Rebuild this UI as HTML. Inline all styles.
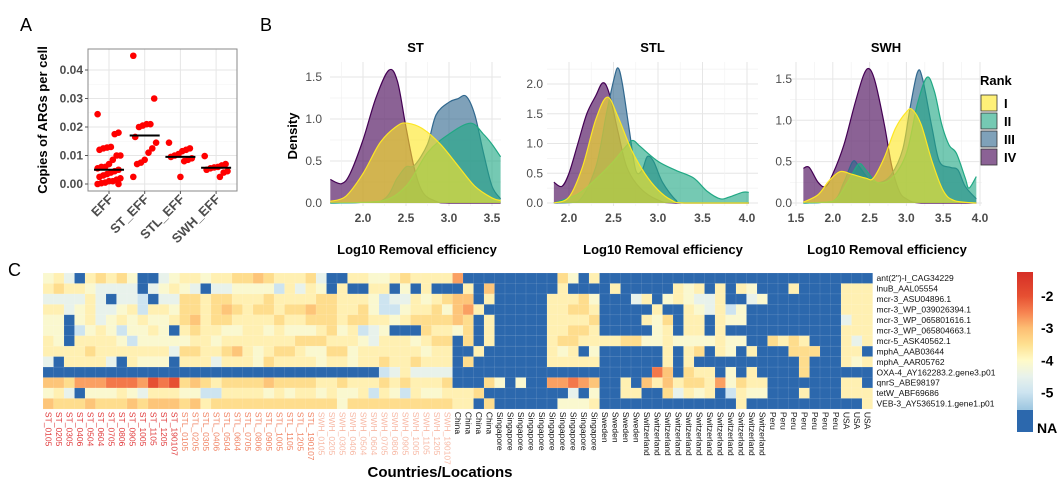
<!DOCTYPE html>
<html><head><meta charset="utf-8">
<style>
html,body{margin:0;padding:0;background:#fff;}
svg{display:block;font-family:"Liberation Sans",sans-serif;}
.tk{font-size:12px;font-weight:bold;fill:#4d4d4d;}
.tkl{font-size:12px;fill:#4d4d4d;}
.ttl{font-size:13px;font-weight:bold;fill:#000;}
</style></head>
<body>
<svg id="fig" width="1057" height="487" viewBox="0 0 1057 487">
<text x="20" y="31" font-size="18">A</text>
<text x="260" y="31" font-size="18">B</text>
<text x="8" y="276" font-size="18">C</text>
<g id="pa"></g>
<g id="pb"></g>
<g id="pc"></g>
</svg>
<script>
// ---------- Panel A data ----------
const aCategories = ["EFF","ST_EFF","STL_EFF","SWH_EFF"];
const aEFF = [0.0245,0.018,0.0175,0.013,0.0128,0.0125,0.012,0.01,0.01,0.0085,0.007,0.006,0.006,0.0055,0.005,0.0045,0.004,0.0035,0.003,0.0025,0.002,0.0015,0.001,0.001,0.0005,0.0003,0,0];
const aST = [0.045,0.03,0.021,0.021,0.0205,0.02,0.0165,0.0145,0.0125,0.011,0.0085,0.0075,0.007,0.0025];
const aSTL = [0.0145,0.0125,0.012,0.0115,0.0105,0.01,0.0095,0.009,0.0085,0.008,0.0025];
const aSWH = [0.0098,0.007,0.0065,0.006,0.0058,0.0055,0.005,0.0045,0.004,0.0025];
const aMedians = [0.005,0.017,0.0095,0.0057];
const aTicks = [0,0.01,0.02,0.03,0.04];
const aTickLabels = ["0.00","0.01","0.02","0.03","0.04"];

// ---------- Panel B data ----------
const rankNames = ["I","II","III","IV"];
const stIV = [[1.62,0.28],[1.75,0.23],[1.85,0.35],[2.0,0.75],[2.15,1.25],[2.3,1.58],[2.4,1.45],[2.5,0.9],[2.6,0.4],[2.7,0.12],[2.85,0.02],[3.0,0],[3.6,0]];
const stIII = [[1.62,0],[2.2,0.02],[2.4,0.3],[2.5,0.43],[2.6,0.45],[2.75,0.7],[2.85,1.05],[3.0,1.2],[3.1,1.24],[3.2,1.27],[3.3,1.05],[3.4,0.6],[3.5,0.2],[3.6,0.05]];
const stII = [[1.62,0],[2.2,0.02],[2.5,0.2],[2.75,0.6],[3.0,0.82],[3.25,0.95],[3.4,0.82],[3.5,0.7],[3.6,0.55]];
const stI = [[1.62,0.02],[1.8,0.08],[2.0,0.35],[2.2,0.72],[2.4,0.92],[2.52,0.95],[2.7,0.88],[2.9,0.7],[3.1,0.45],[3.3,0.2],[3.5,0.06],[3.6,0.03]];
const stlIV = [[1.83,0.35],[1.92,0.28],[2.0,0.5],[2.1,1.0],[2.2,1.5],[2.3,1.8],[2.38,2.02],[2.45,1.85],[2.55,1.2],[2.65,0.6],[2.8,0.25],[3.0,0.05],[3.2,0],[4.02,0]];
const stlIII = [[1.83,0],[2.1,0.02],[2.3,0.6],[2.42,1.5],[2.5,2.05],[2.55,2.27],[2.6,2.0],[2.68,1.2],[2.75,0.55],[2.82,0.55],[2.88,0.78],[2.95,0.7],[3.05,0.35],[3.2,0.05],[3.3,0],[4.02,0]];
const stlII = [[1.83,0],[2.1,0.15],[2.3,0.4],[2.5,0.7],[2.65,0.97],[2.72,1.05],[2.8,0.95],[3.0,0.7],[3.2,0.55],[3.4,0.42],[3.55,0.2],[3.7,0.07],[3.8,0.1],[3.95,0.18],[4.02,0.18]];
const stlI = [[1.83,0],[2.0,0.1],[2.15,0.6],[2.3,1.4],[2.43,1.78],[2.55,1.45],[2.7,0.9],[2.85,0.5],[3.0,0.22],[3.15,0.05],[3.3,0],[4.02,0]];
const swhIV = [[1.6,0.42],[1.68,0.43],[1.8,0.25],[1.9,0.2],[2.0,0.35],[2.15,0.7],[2.3,1.2],[2.42,1.55],[2.5,1.62],[2.58,1.45],[2.7,0.95],[2.8,0.45],[2.9,0.15],[3.0,0.05],[3.2,0],[3.95,0]];
const swhIII = [[1.6,0],[2.0,0.02],[2.15,0.25],[2.27,0.5],[2.35,0.45],[2.5,0.28],[2.65,0.25],[2.8,0.35],[2.95,0.65],[3.05,1.15],[3.15,1.58],[3.22,1.5],[3.35,0.9],[3.45,0.5],[3.6,0.43],[3.7,0.4],[3.8,0.2],[3.95,0.05]];
const swhII = [[1.6,0],[2.0,0.02],[2.2,0.25],[2.35,0.47],[2.45,0.4],[2.6,0.25],[2.8,0.3],[3.0,0.6],[3.15,1.2],[3.28,1.52],[3.38,1.35],[3.48,0.95],[3.58,0.7],[3.68,0.6],[3.8,0.3],[3.85,0.18],[3.95,0.32]];
const swhI = [[1.6,0.01],[1.8,0.1],[1.95,0.27],[2.1,0.38],[2.25,0.35],[2.45,0.3],[2.55,0.3],[2.7,0.55],[2.85,0.9],[3.0,1.1],[3.08,1.13],[3.2,0.95],[3.35,0.5],[3.5,0.15],[3.65,0.03],[3.95,0]];
const stXTicks = [2.0,2.5,3.0,3.5];
const stYTicks = [0,0.5,1.0,1.5];
const stlXTicks = [2.0,2.5,3.0,3.5,4.0];
const stlYTicks = [0,0.5,1.0,1.5,2.0];
const swhXTicks = [1.5,2.0,2.5,3.0,3.5,4.0];
const swhYTicks = [0,0.5,1.0,1.5];

// ---------- Panel C data ----------
const genes = ["ant(2\")-I_CAG34229","lnuB_AAL05554","mcr-3_ASU04896.1","mcr-3_WP_039026394.1","mcr-3_WP_065801616.1","mcr-3_WP_065804663.1","mcr-5_ASK40562.1","mphA_AAB03644","mphA_AAR05762","OXA-4_AY162283.2.gene3.p01","qnrS_ABE98197","tetW_ABF69686","VEB-3_AY536519.1.gene1.p01"];
const sampleSuffix = ["0105","0205","0305","0406","0504","0604","0705","0806","0905","1005","1105","1205","190107"];
const countries = [["China",4],["Singapore",10],["Sweden",4],["Switzerland",12],["Peru",7],["USA",3]];
const levelValues = {a:-5.0,b:-4.5,c:-4.1,d:-3.8,e:-3.45,f:-3.1,g:-2.75,h:-2.4,i:-2.0};
const heatRows = [
 "cdbNdedecNNbc"+"ddcddeefeddde"+"bNNddccdedddd"+"gNNN"+"NNNNNNecNd"+"NNNN"+"NNNNNNNNNNNN"+"NNNNNNN"+"NNN",
 "deddcbbbbNbcd"+"cbNbbccccadbd"+"cNdNNddNcNdNN"+"NdNf"+"NNNNNNdNNN"+"NdNN"+"NNNdcdNdNdcN"+"NNdNNNN"+"ddd",
 "bbbbdbNbbaNbb"+"eedeedddedddd"+"eedddcabbdcde"+"ffNd"+"NNNNNdddec"+"NNNb"+"dNcdcbbdNNbc"+"NNNNNNN"+"ddd",
 "ddbcdbbcdaddc"+"eedefedeedeef"+"eeddecaacddec"+"fgdN"+"NNNNNddeed"+"NNNN"+"NdNNdcbdacNN"+"NNNNNNN"+"ddd",
 "ccNcdbcdcdccd"+"efdeeddddedde"+"eedeeddcdeeee"+"feNd"+"NNNNNdddde"+"NNNN"+"dceNddNdccNN"+"NNNNNNN"+"bdd",
 "ccNacdcaccdcN"+"deddccddcdccc"+"decdabcNNNedd"+"ceNd"+"NNNNNddeed"+"NNNN"+"NcdNddNdNNNN"+"NNNNNNN"+"ddd",
 "dcNddddcacccc"+"cddcdddddddee"+"edddcbdddcdee"+"NeNd"+"NNNNNdeedd"+"ddee"+"ccdccccdccNN"+"ededNNN"+"dbd",
 "ddddedddddddb"+"eeddefdcdeedc"+"ceecddddddcdd"+"NNdN"+"NNNNNdcdNc"+"NNNN"+"NNdNdeNdcNdN"+"NNeeeNN"+"ddN",
 "bNddddbNdcccN"+"dddbdddcedddd"+"cddcddeddeddd"+"NeNN"+"NNNNNddddd"+"NNNN"+"NNdNdNNNNNNN"+"NNNeNNN"+"dcd",
 "NNNNNNNNNNNNN"+"NNNNNNNNNNNNN"+"NNNNNNabdbbbb"+"NNNN"+"NNNNNNNNNN"+"NNNN"+"NhfNeddNcNdN"+"NNNeNNN"+"NNN",
 "ffeggghhhgihi"+"efedeeeefeeee"+"ddedddededdde"+"NNNe"+"cNcNNgghgf"+"NNdN"+"fdfdeedgcedd"+"NNNNNNN"+"ddN",
 "cdbNcccdcbddd"+"ccaaddddcdcdd"+"cdccdadcadccd"+"ddeN"+"NNNNNNNbNc"+"NNdd"+"NNebdcdNadcc"+"NNNdNNN"+"ddd",
 "feeefeeefefff"+"efdeeeeeeeeee"+"eeceeeeeeeeee"+"ddNe"+"NNNNNNcccd"+"NNNN"+"NNNNNNNNNdNN"+"NNNNNNN"+"NNd"
];
const cbTicks = [-2,-3,-4,-5];

const NS="http://www.w3.org/2000/svg";
function mk(parent,tag,attrs,text){const e=document.createElementNS(NS,tag);for(const k in attrs)e.setAttribute(k,attrs[k]);if(text!==undefined)e.textContent=text;parent.appendChild(e);return e;}

// ===== Panel A =====
(function(){
 const g=document.getElementById('pa');
 const L=88,R=237,T=49,B=191;
 const y=v=>184-v*2850;
 const xc=i=>109+i*35.7;
 mk(g,'rect',{x:L,y:T,width:R-L,height:B-T,fill:'#fff'});
 [0.005,0.015,0.025,0.035].forEach(v=>mk(g,'line',{x1:L,x2:R,y1:y(v),y2:y(v),stroke:'#f3f3f3','stroke-width':0.6}));
 aTicks.forEach(v=>mk(g,'line',{x1:L,x2:R,y1:y(v),y2:y(v),stroke:'#e6e6e6','stroke-width':1}));
 aCategories.forEach((c,i)=>mk(g,'line',{x1:xc(i),x2:xc(i),y1:T,y2:B,stroke:'#e6e6e6','stroke-width':1}));
 const br=mk(g,'rect',{x:L,y:T,width:R-L,height:B-T,fill:'none',stroke:'#8a8a8a','stroke-width':1});
 
 aTicks.forEach((v,i)=>{
  const t=mk(g,'text',{x:83,y:y(v)+4,'text-anchor':'end',class:'tk'},aTickLabels[i]);
  
  
  mk(g,'line',{x1:85,x2:L,y1:y(v),y2:y(v),stroke:'#555'});
 });
 const yt=mk(g,'text',{x:0,y:0,transform:'translate(47,120) rotate(-90)','text-anchor':'middle',class:'ttl'},'Copies of ARGs per  cell');
 
 [aEFF,aST,aSTL,aSWH].forEach((arr,i)=>{
  arr.forEach((v,j)=>{
   const jit=(((j*37)%13)-6)*1.9;
   const c=mk(g,'circle',{cx:xc(i)+jit,cy:y(v),r:3.3,fill:'#ff0000'});
   
   
  });
  const m=mk(g,'line',{x1:xc(i)-15,x2:xc(i)+15,y1:y(aMedians[i]),y2:y(aMedians[i]),stroke:'#000','stroke-width':2});
  
  
  mk(g,'line',{x1:xc(i),x2:xc(i),y1:B,y2:B+3,stroke:'#555'});
  const t=mk(g,'text',{x:0,y:0,transform:`translate(${xc(i)+5},${B+9}) rotate(-45)`,'text-anchor':'end',class:'tk','font-size':'13'},aCategories[i]);
  t.style.fontSize='13px';
  
  
 });
})();

// ===== Panel B =====
function smooth(pts){
 let d=`M${pts[0][0]},${pts[0][1]}`;
 for(let i=0;i<pts.length-1;i++){
  const p0=pts[Math.max(0,i-1)],p1=pts[i],p2=pts[i+1],p3=pts[Math.min(pts.length-1,i+2)];
  const c1x=p1[0]+(p2[0]-p0[0])/6,c1y=Math.min(203,p1[1]+(p2[1]-p0[1])/6);
  const c2x=p2[0]-(p3[0]-p1[0])/6,c2y=Math.min(203,p2[1]-(p3[1]-p1[1])/6);
  d+=` C${c1x},${c1y} ${c2x},${c2y} ${p2[0]},${p2[1]}`;
 }
 return d;
}
const rankFill=["#FDE725","#21A884","#31688E","#440154"];
(function(){
 const g=document.getElementById('pb');
 const panels=[
  {name:'ST',cx:417,L:330,R:501,x0:363,xv0:2.0,kx:86,ky:84,xt:stXTicks,yt:stYTicks,series:[stIV,stIII,stII,stI],tx:322,dec:1},
  {name:'STL',cx:655,L:547,R:758,x0:569,xv0:2.0,kx:89,ky:59.5,xt:stlXTicks,yt:stlYTicks,series:[stlIV,stlIII,stlII,stlI],tx:543,dec:1},
  {name:'SWH',cx:895,L:790,R:982,x0:796,xv0:1.5,kx:73.6,ky:82.7,xt:swhXTicks,yt:swhYTicks,series:[swhIV,swhIII,swhII,swhI],tx:792,dec:1}
 ];
 panels.forEach(p=>{
  const pg=mk(g,'g',{});
  
  
  const X=v=>p.x0+(v-p.xv0)*p.kx, Y=v=>203-v*p.ky;
  const T=62;
  const step=p.yt[1]-p.yt[0];
  for(let v=step/2;Y(v)>T;v+=step) mk(pg,'line',{x1:p.L,x2:p.R,y1:Y(v),y2:Y(v),stroke:'#f2f2f2','stroke-width':0.7});
  p.yt.forEach(v=>mk(pg,'line',{x1:p.L,x2:p.R,y1:Y(v),y2:Y(v),stroke:'#e6e6e6','stroke-width':1}));
  for(let v=p.xt[0]-0.25;v<=p.xt[p.xt.length-1]+0.26;v+=0.5){if(X(v)>=p.L&&X(v)<=p.R)mk(pg,'line',{x1:X(v),x2:X(v),y1:T,y2:206,stroke:'#f2f2f2','stroke-width':0.7});}
  p.xt.forEach(v=>mk(pg,'line',{x1:X(v),x2:X(v),y1:T,y2:206,stroke:'#e6e6e6','stroke-width':1}));
  p.series.forEach((s,k)=>{
   const ri=3-k;
   const pts=s.map(q=>[X(q[0]),Y(q[1])]);
   const top=smooth(pts);
   const area=top+` L${pts[pts.length-1][0]},203 L${pts[0][0]},203 Z`;
   const a=mk(pg,'path',{d:area,fill:rankFill[ri],'fill-opacity':0.62,stroke:'none'});
   
   
   mk(pg,'path',{d:top,fill:'none',stroke:rankFill[ri],'stroke-width':1.2});
  });
  p.yt.forEach(v=>{
   const t=mk(pg,'text',{x:p.tx,y:Y(v)+4,'text-anchor':'end',class:'tkl'},v.toFixed(1));
   
   
  });
  p.xt.forEach(v=>{
   const t=mk(pg,'text',{x:X(v),y:222,'text-anchor':'middle',class:'tk'},v.toFixed(1));
   
   
  });
  const tt=mk(pg,'text',{x:(p.L+p.R)/2,y:52,'text-anchor':'middle',class:'ttl'},p.name);
  
  const xt=mk(pg,'text',{x:p.name==='SWH'?887:(p.name==='STL'?663:417),y:254,'text-anchor':'middle',class:'ttl'},'Log10 Removal efficiency');
  
 });
 const dt=mk(g,'text',{x:0,y:0,transform:'translate(297,136) rotate(-90)','text-anchor':'middle',class:'ttl'},'Density');
 
 const lg=mk(g,'g',{});
 
 mk(lg,'text',{x:980,y:85,class:'ttl','font-size':'14'},'Rank');
 rankNames.forEach((r,i)=>{
  const b=mk(lg,'rect',{x:981,y:95+i*18,width:16,height:16,fill:rankFill[i],'fill-opacity':0.62,stroke:'#333','stroke-width':0.8});
  
  
  const t=mk(lg,'text',{x:1004,y:108+i*18,class:'ttl'},r);
  
  
 });
})();

// ===== Panel C =====
const stops=[[-1.3,[215,48,39]],[-2.0,[230,80,50]],[-2.5,[246,130,80]],[-3.0,[253,190,115]],[-3.5,[254,224,144]],[-4.0,[255,250,200]],[-4.5,[232,242,235]],[-5.0,[205,228,240]],[-5.5,[160,200,225]],[-5.8,[120,170,210]]];
function colorOf(v){
 if(v===null)return '#2c68ad';
 for(let i=0;i<stops.length-1;i++){
  const a=stops[i],b=stops[i+1];
  if(v<=a[0]&&v>=b[0]){const t=(a[0]-v)/(a[0]-b[0]);const c=a[1].map((x,k)=>Math.round(x+(b[1][k]-x)*t));return `rgb(${c})`;}
 }
 return v>-1.3?'rgb(215,48,39)':'rgb(120,170,210)';
}
(function(){
 const g=document.getElementById('pc');
 const x0=43,y0=273,cw=10.5,ch=10.45;
 const cols=[];
 ["ST","STL","SWH"].forEach((p,pi)=>sampleSuffix.forEach(s=>cols.push({label:p+'_'+s,color:['#e0393a','#f08363','#f7b8a4'][pi]})));
 countries.forEach(c=>{for(let k=0;k<c[1];k++)cols.push({label:c[0],color:'#111'});});
 heatRows.forEach((row,r)=>{
  const s=(row+'N'.repeat(cols.length)).slice(0,cols.length);
  for(let c=0;c<cols.length;c++){
   const ch0=s[c];
   const v=ch0==='N'?null:levelValues[ch0];
   const rc=mk(g,'rect',{x:x0+c*cw,y:y0+r*ch,width:cw+0.2,height:ch+0.2,fill:colorOf(v),stroke:'rgba(255,255,255,0.18)','stroke-width':0.5});
   
   
  }
  const t=mk(g,'text',{x:x0+cols.length*cw+4,y:y0+r*ch+ch/2+3,'font-size':'8.5',fill:'#111'},genes[r]);
  
  
 });
 cols.forEach((c,i)=>{
  const t=mk(g,'text',{x:0,y:0,transform:`translate(${x0+i*cw+cw/2-3},${y0+13*ch+3}) rotate(90)`,'font-size':'8.5',fill:c.color},c.label);
  
  
 });
 const xt=mk(g,'text',{x:440,y:477,'text-anchor':'middle','font-size':'15','font-weight':'bold'},'Countries/Locations');
 
 // colorbar
 const defs=mk(g,'defs',{});
 const lgd=mk(defs,'linearGradient',{id:'cbg',x1:0,y1:0,x2:0,y2:1});
 const cbTop=272,cbBot=410,vTop=-1.25,vBot=-5.55;
 stops.forEach(s=>{if(s[0]>=vBot){const o=(vTop-s[0])/(vTop-vBot);mk(lgd,'stop',{offset:Math.max(0,o),'stop-color':`rgb(${s[1]})`});}});
 const cb=mk(g,'rect',{x:1017,y:cbTop,width:16,height:cbBot-cbTop,fill:'url(#cbg)'});
 
 mk(g,'rect',{x:1017,y:cbBot,width:16,height:22,fill:'#2c68ad'});
 const cy=v=>cbTop+(vTop-v)/(vTop-vBot)*(cbBot-cbTop);
 cbTicks.forEach(v=>{
  const t=mk(g,'text',{x:1041,y:cy(v)+5,'font-size':'14','font-weight':'bold'},'-'+Math.abs(v));
  
  
 });
 const na=mk(g,'text',{x:1037,y:433,'font-size':'14','font-weight':'bold'},'NA');
 
})();
</script>
</body></html>
